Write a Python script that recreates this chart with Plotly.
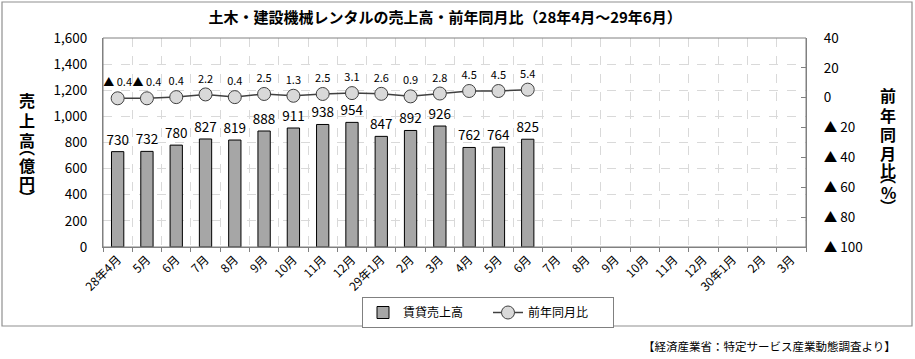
import plotly.graph_objects as go

categories = ["28年4月","5月","6月","7月","8月","9月","10月","11月","12月","29年1月","2月","3月",
              "4月","5月","6月","7月","8月","9月","10月","11月","12月","30年1月","2月","3月"]
sales = [730, 732, 780, 827, 819, 888, 911, 938, 954, 847, 892, 926, 762, 764, 825]
yoy = [-0.4, -0.4, 0.4, 2.2, 0.4, 2.5, 1.3, 2.5, 3.1, 2.6, 0.9, 2.8, 4.5, 4.5, 5.4]
left_ticks = [0, 200, 400, 600, 800, 1000, 1200, 1400, 1600]
right_ticks = [-100, -80, -60, -40, -20, 0, 20, 40]
left_title = ["売", "上", "高", "︵", "億", "円", "︶"]
right_title = ["前", "年", "同", "月", "比", "︵", "%", "︶"]

def fmt_r(v):
    return "▲ %d" % abs(v) if v < 0 else "%d" % v

def fmt_p(v):
    return "▲ %.1f" % abs(v) if v < 0 else "%.1f" % v

FONT = "Noto Sans CJK JP, sans-serif"
xs = list(range(len(categories)))

# plot area in pixels
PL, PR, PT, PB = 103, 806, 38, 247
PW, PH = PR - PL, PB - PT

def px(x):
    return (x - PL) / PW

def py(y):
    return (PB - y) / PH

fig = go.Figure()
fig.add_trace(go.Bar(
    x=xs[:len(sales)], y=sales, name="賃貸売上高",
    marker=dict(color="#a6a6a6", line=dict(color="#000000", width=1)),
    width=0.42,
    text=[str(v) for v in sales], textposition="outside", constraintext="none",
    textfont=dict(size=13.5, color="#000000"), cliponaxis=False,
))
fig.add_trace(go.Scatter(
    x=xs[:len(yoy)], y=yoy, name="前年同月比", yaxis="y2",
    mode="lines+markers+text",
    line=dict(color="#404040", width=1.5),
    marker=dict(size=13, color="#d9d9d9", line=dict(color="#404040", width=1)),
    text=[fmt_p(v) for v in yoy], textposition="top center",
    textfont=dict(size=11, color="#000000"), cliponaxis=False,
))

fig.update_layout(
    width=915, height=359,
    margin=dict(l=PL, r=915 - PR, t=PT, b=359 - PB, autoexpand=False),
    paper_bgcolor="white", plot_bgcolor="white",
    font=dict(family=FONT, size=12, color="#000000"),
    showlegend=True, bargap=0.5,
    legend=dict(orientation="h", x=px(362), y=py(297), xanchor="left", yanchor="top",
                bordercolor="#808080", borderwidth=1, font=dict(size=12),
                itemwidth=30, entrywidth=80),
    xaxis=dict(range=[-0.5, len(categories) - 0.5], tickmode="array",
               tickvals=xs, ticktext=categories, tickangle=-45,
               showgrid=False, showline=True, linecolor="#808080", linewidth=1,
               tickfont=dict(size=12), automargin=False,
               minor=dict(tickmode="linear", tick0=-0.5, dtick=1, showgrid=True,
                          gridcolor="#d9d9d9", griddash="dash", gridwidth=1,
                          ticks="outside", ticklen=4, tickcolor="#808080"),
               zeroline=False),
    yaxis=dict(range=[0, 1600], tickmode="array", tickvals=left_ticks,
               ticktext=["{:,}".format(v) for v in left_ticks],
               showgrid=True, gridcolor="#d9d9d9", griddash="dash",
               showline=True, linecolor="#808080", mirror=False, automargin=False,
               tickfont=dict(size=13.5), zeroline=False, ticks="",
               ticklabelstandoff=12),
    yaxis2=dict(range=[-100, 40], overlaying="y", side="right", tickmode="array",
                tickvals=right_ticks, ticktext=[fmt_r(v) for v in right_ticks],
                showgrid=False, zeroline=False, showline=True, linecolor="#808080",
                ticks="inside", ticklen=5, tickcolor="#808080", automargin=False,
                tickfont=dict(size=13.5), ticklabelstandoff=14),
    title=dict(text="土木・建設機械レンタルの売上高・前年同月比（28年4月～29年6月）",
               x=px(445), xanchor="center", y=1 - 18 / 359, yanchor="middle",
               font=dict(size=15, family=FONT, weight="bold")),
)

# plot area border
fig.add_shape(type="rect", xref="paper", yref="paper", x0=0, x1=1, y0=0, y1=1,
              line=dict(color="#808080", width=1), layer="above")
# outer chart border
fig.add_shape(type="rect", xref="paper", yref="paper",
              x0=px(2), x1=px(912), y0=py(326), y1=py(2),
              line=dict(color="#909090", width=1.2))

def stacked(chars, centers, xpix):
    for ch, yy in zip(chars, centers):
        # vertical-form brackets sit at the edge of their glyph box
        if ch == "︵":
            yy = yy - 5
        elif ch == "︶":
            yy = yy + 4
        fig.add_annotation(xref="paper", yref="paper", x=px(xpix), y=py(yy),
                           xanchor="center", yanchor="middle",
                           text=ch, showarrow=False, borderpad=0,
                           font=dict(size=16, family=FONT, weight="bold"))

stacked(left_title, [100, 120, 140, 152, 165, 183, 193], 27)
stacked(right_title, [95, 115, 134, 153, 170, 180, 192, 202], 888)

fig.add_annotation(xref="paper", yref="paper", x=px(898), y=py(346),
                   xanchor="right", yanchor="middle",
                   text="【経済産業省：特定サービス産業動態調査より】", showarrow=False,
                   font=dict(size=11.5, family=FONT))

fig.write_html("out.html", config={"displayModeBar": False},
               post_script="document.body.style.margin='0px';")
